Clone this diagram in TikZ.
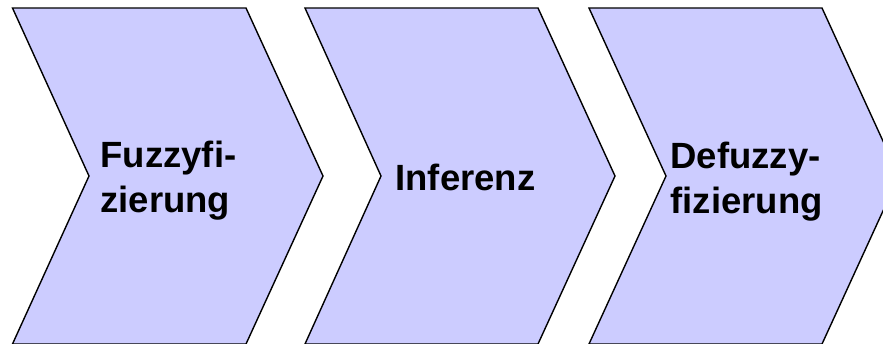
\documentclass[tikz,border=0pt]{standalone}
\usepackage{fontspec}
\setmainfont{Liberation Sans}
\definecolor{chevfill}{HTML}{CCCCFF}
\tikzset{
  chevron/.style={fill=chevfill, draw=black, line width=1.4pt, line join=miter},
  steplabel/.style={font=\bfseries\fontsize{36.5}{45}\selectfont, inner sep=0pt, outer sep=0pt, anchor=base west, align=left}
}
\begin{document}
\begin{tikzpicture}[x=1pt,y=-1pt]
\useasboundingbox (0,0) rectangle (883,343);
\clip (0,0) rectangle (883,343);
\fill[white] (0,0) rectangle (883,343);
% chevrons
\draw[chevron] (12.5,8) -- (246,8) -- (323,176) -- (246,344) -- (12.5,344) -- (89,176) -- cycle;
\draw[chevron] (305,8) -- (538,8) -- (615,176) -- (538,344) -- (305,344) -- (381,176) -- cycle;
\draw[chevron] (589,8) -- (822,8) -- (899,176) -- (822,344) -- (589,344) -- (666,176) -- cycle;
% labels (anchor is baseline of the last line)
\node[steplabel] (fuzz) at (100.5,212.7) {Fuzzyfi-\\zierung};
\node[steplabel] (inf) at (395.5,190.7) {Inferenz};
\node[steplabel] (defuzz) at (670.5,213) {Defuzzy-\\fizierung};
\end{tikzpicture}
\end{document}
